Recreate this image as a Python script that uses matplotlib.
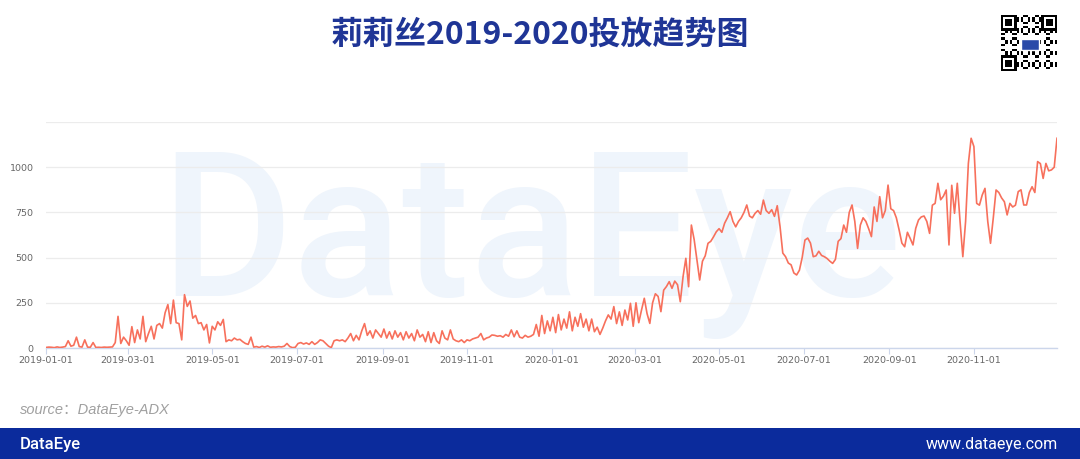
import matplotlib
matplotlib.use("Agg")
import matplotlib.pyplot as plt
import matplotlib.dates as mdates
from matplotlib.patches import Rectangle
import numpy as np
import pandas as pd

# daily ad count for Lilith, read every second day from 2019-01-01 to 2020-12-31
ads_2019 = [
    3, 5, 4, 2, 6, 3, 5, 8, 40, 10, 15, 60, 8, 5, 45, 5,            # Jan
    4, 30, 3, 4, 3, 5, 4, 5, 6, 30, 175, 25, 60, 40,                # Feb
    15, 118, 30, 100, 50, 175, 35, 80, 120, 50, 125, 135, 110, 195, 240,  # Mar
    135, 265, 140, 135, 45, 295, 230, 260, 165, 180, 135, 140, 100, 130, 28,  # Apr
    120, 100, 145, 125, 158, 35, 45, 40, 55, 45, 48, 35, 25, 20, 60, 5,  # May
    8, 3, 10, 5, 12, 4, 6, 5, 8, 6, 10, 25, 8, 2, 4,                # Jun
    25, 30, 22, 28, 20, 35, 20, 30, 45, 40, 25, 10, 2, 40, 45,      # Jul
    40, 45, 35, 55, 80, 40, 70, 45, 95, 135, 70, 95, 55, 100, 80, 60,  # Aug
    105, 55, 90, 50, 95, 60, 85, 45, 90, 55, 80, 40, 100, 60, 75,   # Sep
    35, 90, 30, 85, 40, 25, 95, 55, 45, 100, 50, 40, 35, 45, 30,    # Oct
    45, 40, 50, 55, 60, 80, 45, 55, 60, 72, 70, 65, 68, 60, 75,     # Nov
    65, 100, 62, 95, 60, 55, 70, 60, 65, 75, 130, 65, 180, 80, 150, 95,  # Dec
]
ads_2020 = [
    170, 85, 185, 100, 160, 110, 200, 95, 170, 120, 190, 115, 160, 95, 160,  # Jan
    90, 115, 75, 110, 150, 183, 160, 229, 135, 200, 125, 210, 155, 247, 120,  # Feb
    250, 140, 210, 275, 190, 136, 250, 300, 285, 201, 320, 340, 367, 330, 370,  # Mar
    350, 256, 395, 496, 339, 680, 600, 487, 376, 480, 510, 579, 590, 615, 643,  # Apr
    660, 640, 690, 720, 754, 700, 670, 700, 720, 750, 791, 730, 720, 745, 760, 740,  # May
    818, 760, 745, 765, 728, 787, 673, 525, 505, 470, 460, 415, 404, 430, 500,  # Jun
    597, 608, 580, 505, 510, 535, 512, 505, 495, 480, 468, 490, 590, 605, 680,  # Jul
    640, 750, 791, 700, 551, 680, 720, 700, 660, 616, 780, 700, 837, 720, 760, 901,  # Aug
    770, 760, 720, 653, 580, 560, 640, 606, 570, 662, 708, 725, 730, 700, 634,  # Sep
    790, 800, 911, 820, 840, 874, 570, 900, 745, 911, 700, 505, 700, 1021, 1160,  # Oct
    1114, 800, 790, 846, 883, 700, 579, 720, 874, 860, 830, 809, 736, 800, 780,  # Nov
    790, 865, 875, 791, 791, 860, 892, 860, 1031, 1020, 938, 1021, 980, 985, 1000, 1160,  # Dec
]
ads = ads_2019 + ads_2020
dates = pd.date_range("2019-01-01", periods=len(ads), freq="2D")

y_ticks = [0, 250, 500, 750, 1000, 1250]
y_labels = ["0", "250", "500", "750", "1000", ""]
x_ticks = pd.date_range("2019-01-01", "2020-11-01", freq="2MS")

title = "莉莉丝2019-2020投放趋势图"
source = "source：DataEye-ADX"

cjk = ["Noto Sans CJK SC", "DejaVu Sans"]

fig = plt.figure(figsize=(10.8, 4.59), dpi=100)
fig.patch.set_facecolor("white")

ax = fig.add_axes([46 / 1080, 1 - 348 / 459, 1011 / 1080, 226 / 459])
ax.patch.set_alpha(0)

# watermark behind the line
ax.text(0.48, 0.23, "DataEye", transform=ax.transAxes, family="Roboto",
        fontweight="medium", fontsize=146, color="#eff5fc", ha="center",
        va="baseline", zorder=0)

ax.plot(dates, ads, color="#f7705c", lw=1.2, zorder=3)

ax.set_xlim(pd.Timestamp("2019-01-01"), pd.Timestamp("2020-12-31"))
ax.set_ylim(0, 1250)
ax.set_yticks(y_ticks)
ax.set_yticklabels(y_labels)
ax.set_xticks(x_ticks)
ax.xaxis.set_major_formatter(mdates.DateFormatter("%Y-%m-%d"))
ax.grid(axis="y", color="#ececec", lw=0.9, zorder=1)
ax.set_axisbelow(True)
for s in ["top", "right", "left"]:
    ax.spines[s].set_visible(False)
ax.spines["bottom"].set_color("#ccd6eb")
ax.spines["bottom"].set_linewidth(1)
ax.tick_params(axis="y", length=0, pad=9, labelsize=6.8, labelcolor="#666666")
ax.tick_params(axis="x", length=4, color="#ccd6eb", pad=2, labelsize=6.8,
               labelcolor="#666666")

fig.text(0.5, 1 - 35 / 459, title, family=cjk, fontweight="bold", fontsize=23,
         color="#1f3596", ha="center", va="center")

fig.text(20 / 1080, 1 - 410 / 459, source,
         family=["Liberation Sans Narrow", "Liberation Sans", "Noto Sans CJK SC"],
         fontstyle="italic", fontsize=10.5, color="#a0a0a0", ha="left", va="center")

# bottom banner
fig.patches.append(Rectangle((0, 0), 1, 31 / 459, transform=fig.transFigure,
                             facecolor="#0b2b9c", edgecolor="none", zorder=1))
fig.text(20 / 1080, 15 / 459, "DataEye", family="Roboto", fontweight="medium",
         fontsize=12, color="white", ha="left", va="center", zorder=2)
fig.text(1058 / 1080, 15 / 459, "www.dataeye.com", family="Roboto",
         fontsize=11.5, color="white", ha="right", va="center", zorder=2)

# qr code badge, top right
qx = fig.add_axes([1001 / 1080, 1 - 71 / 459, 56 / 1080, 56 / 459])
n = 25
ii, jj = np.meshgrid(np.arange(n), np.arange(n), indexing="ij")
qr = ((ii * 7 + jj * 11 + ii * jj) % 5 < 2).astype(float)
for (r, c) in [(0, 0), (0, n - 7), (n - 7, 0)]:
    qr[r:r + 7, c:c + 7] = 1
    qr[r + 1:r + 6, c + 1:c + 6] = 0
    qr[r + 2:r + 5, c + 2:c + 5] = 1
qr[9:16, 8:17] = 0
qx.imshow(1 - qr, cmap="gray", interpolation="nearest", vmin=0, vmax=1)
qx.add_patch(Rectangle((8.5, 10), 8, 5, facecolor="#2a4aa8", edgecolor="white", lw=1))
qx.axis("off")

fig.savefig("out.png", dpi=100)
